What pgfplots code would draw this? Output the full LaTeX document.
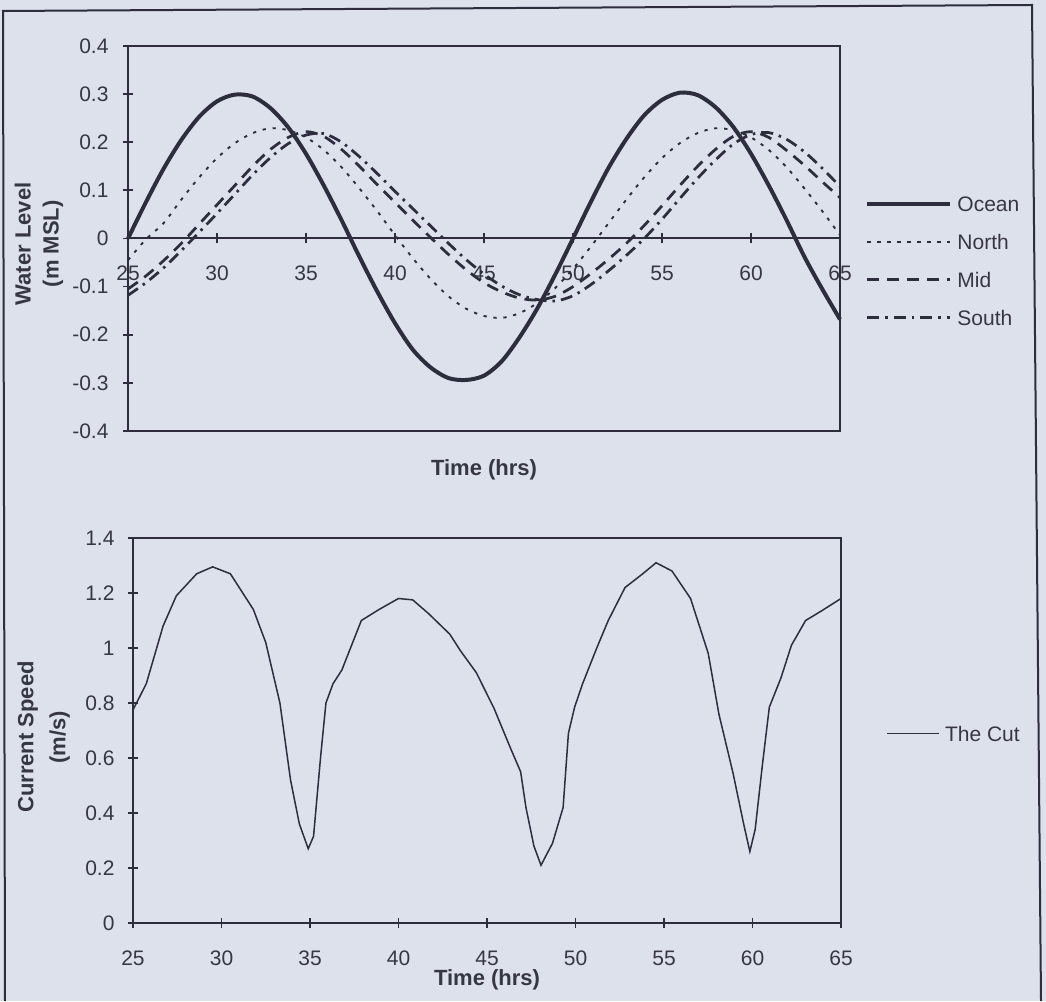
\documentclass[border=0pt]{standalone}
\usepackage{fontspec}
\setmainfont{Liberation Sans}
\usepackage{pgfplots}
\pgfplotsset{compat=1.18}
\usepackage{pgfplotstable}

\definecolor{bg}{RGB}{221,225,236}
\definecolor{ink}{RGB}{45,45,62}
\definecolor{txt}{RGB}{55,55,68}

% water levels, hourly
\pgfplotstableread{
t  ocean  north  mid    south
25  0.000 -0.045 -0.105 -0.118
26  0.075 -0.002 -0.078 -0.092
27  0.145  0.032 -0.046 -0.061
28  0.205  0.081 -0.010 -0.025
29  0.253  0.127  0.030  0.013
30  0.285  0.167  0.070  0.052
31  0.299  0.198  0.110  0.092
32  0.295  0.219  0.150  0.132
33  0.271  0.229  0.185  0.168
34  0.231  0.225  0.210  0.197
35  0.176  0.210  0.222  0.215
36  0.110  0.184  0.212  0.218
37  0.038  0.148  0.185  0.200
38 -0.038  0.104  0.150  0.170
39 -0.110  0.057  0.112  0.135
40 -0.176  0.007  0.075  0.098
41 -0.231 -0.041  0.038  0.062
42 -0.268 -0.084  0.002  0.026
43 -0.290 -0.120 -0.033 -0.010
44 -0.294 -0.146 -0.065 -0.044
45 -0.285 -0.161 -0.092 -0.074
46 -0.255 -0.165 -0.111 -0.099
47 -0.205 -0.155 -0.124 -0.117
48 -0.145 -0.134 -0.128 -0.127
49 -0.075 -0.103 -0.120 -0.130
50  0.000 -0.063 -0.100 -0.119
51  0.076 -0.017 -0.073 -0.096
52  0.147  0.032 -0.043 -0.067
53  0.207  0.081 -0.010 -0.035
54  0.256  0.127  0.027  0.000
55  0.288  0.167  0.068  0.040
56  0.303  0.198  0.110  0.083
57  0.298  0.219  0.150  0.125
58  0.273  0.229  0.185  0.163
59  0.232  0.225  0.212  0.196
60  0.176  0.210  0.222  0.216
61  0.110  0.184  0.210  0.220
62  0.038  0.148  0.183  0.206
63 -0.038  0.104  0.152  0.180
64 -0.105  0.057  0.118  0.146
65 -0.168  0.007  0.085  0.108
}\levels

% current speed through the cut
\pgfplotstableread{
t     speed
25.00 0.775
25.75 0.870
26.70 1.080
27.45 1.190
28.60 1.270
29.50 1.295
30.50 1.270
31.80 1.140
32.50 1.020
33.30 0.800
33.90 0.520
34.40 0.360
34.90 0.270
35.20 0.315
35.60 0.605
35.90 0.800
36.30 0.870
36.80 0.920
37.90 1.100
38.90 1.140
40.00 1.180
40.80 1.175
41.70 1.125
42.90 1.050
43.50 0.990
44.40 0.910
45.40 0.780
46.30 0.640
46.90 0.550
47.20 0.420
47.65 0.280
48.05 0.210
48.70 0.290
49.30 0.420
49.60 0.690
49.95 0.785
50.40 0.870
51.20 1.000
51.85 1.100
52.80 1.220
53.80 1.270
54.55 1.310
55.45 1.280
56.50 1.180
57.50 0.980
58.10 0.760
58.90 0.545
59.50 0.360
59.85 0.260
60.15 0.340
60.55 0.570
60.95 0.785
61.60 0.890
62.20 1.010
63.00 1.100
63.90 1.135
65.00 1.180
}\cutspeed

\pgfplotsset{
  excel/.style={
    scale only axis, clip=false,
    axis line style={ink, line width=0.8pt},
    tick style={ink, line width=0.7pt},
    tick align=center, major tick length=4pt,
    ticklabel style={font=\fontsize{8.4}{10}\selectfont, text=txt},
    /pgf/number format/assume math mode=true,
    legend cell align=left,
    legend style={draw=none, fill=none, inner sep=0pt, row sep=9pt, column sep=2pt,
      font=\fontsize{8.4}{10}\selectfont,
      nodes={inner sep=0pt, text height=6.2pt, text depth=0pt, text=txt}},
  },
}

\begin{document}
\begin{tikzpicture}[x=0.4pt,y=0.4pt]
\fill[bg] (0,0) rectangle (1046,1001);
\useasboundingbox (0,0) rectangle (1046,1001);
\draw[ink, line width=0.8pt] (5,0) -- (3,990) -- (1032,996) -- (1041,0);

% ---- water level ----
\begin{axis}[excel,
  at={(51.2pt,228pt)}, anchor=south west,
  width=284.8pt, height=154pt,
  xmin=25, xmax=65, ymin=-0.4, ymax=0.4,
  axis x line=middle, axis y line=left, axis line style={-},
  hide obscured x ticks=false,
  xtick={25,30,...,65},
  ytick={-0.4,-0.3,-0.2,-0.1,0,0.1,0.2,0.3,0.4},
  yticklabels={-0.4,-0.3,-0.2,-0.1,0,0.1,0.2,0.3,0.4},
  xticklabel style={anchor=center, yshift=-12pt},
  yticklabel style={anchor=east, inner sep=0pt, xshift=-5.6pt},
  legend style={at={(1.035,0.612)}, anchor=north west},
  legend image code/.code={\draw[#1] (0pt,0pt) -- (33.2pt,0pt);},
]
\addplot[ink, line width=1.6pt, smooth, tension=0.5] table[x=t,y=ocean] {\levels};
\addplot[ink, line width=0.75pt, smooth, tension=0.5, dash pattern=on 1.3pt off 2.7pt] table[x=t,y=north] {\levels};
\addplot[ink, line width=1.1pt, smooth, tension=0.5, dash pattern=on 4.8pt off 3.2pt] table[x=t,y=mid] {\levels};
\addplot[ink, line width=1.1pt, smooth, tension=0.5, dash pattern=on 4.8pt off 2.4pt on 1pt off 2.4pt] table[x=t,y=south] {\levels};
\legend{Ocean,North,Mid,South}
\draw[ink, line width=0.8pt] (rel axis cs:0,0) rectangle (rel axis cs:1,1);
\node[font=\fontsize{8.8}{10}\selectfont\bfseries, text=txt] at (axis description cs:0.5,-0.101) {Time (hrs)};
\node[font=\fontsize{8.8}{11.2}\selectfont\bfseries, text=txt, rotate=90, align=center]
  at (axis description cs:-0.125,0.486) {Water Level\\(m MSL)};
\end{axis}

% ---- current speed ----
\begin{axis}[excel,
  at={(53.2pt,31.2pt)}, anchor=south west,
  width=283.2pt, height=154pt,
  xmin=25, xmax=65, ymin=0, ymax=1.4,
  xtick pos=bottom, ytick pos=left,
  xtick={25,30,...,65},
  ytick={0,0.2,0.4,0.6,0.8,1,1.2,1.4},
  yticklabels={0,0.2,0.4,0.6,0.8,1,1.2,1.4},
  xticklabel style={anchor=center, yshift=-12pt},
  yticklabel style={anchor=east, inner sep=0pt, xshift=-5.2pt},
  legend style={at={(1.0636,0.5136)}, anchor=north west},
  legend image code/.code={\draw[#1] (0pt,0pt) -- (20.8pt,0pt);},
]
\addplot[ink, line width=0.6pt] table[x=t,y=speed] {\cutspeed};
\legend{The Cut}
\node[font=\fontsize{8.8}{10}\selectfont\bfseries, text=txt] at (axis description cs:0.5,-0.148) {Time (hrs)};
\node[font=\fontsize{8.8}{12.8}\selectfont\bfseries, text=txt, rotate=90, align=center]
  at (axis description cs:-0.126,0.483) {Current Speed\\(m/s)};
\end{axis}
\end{tikzpicture}
\end{document}
